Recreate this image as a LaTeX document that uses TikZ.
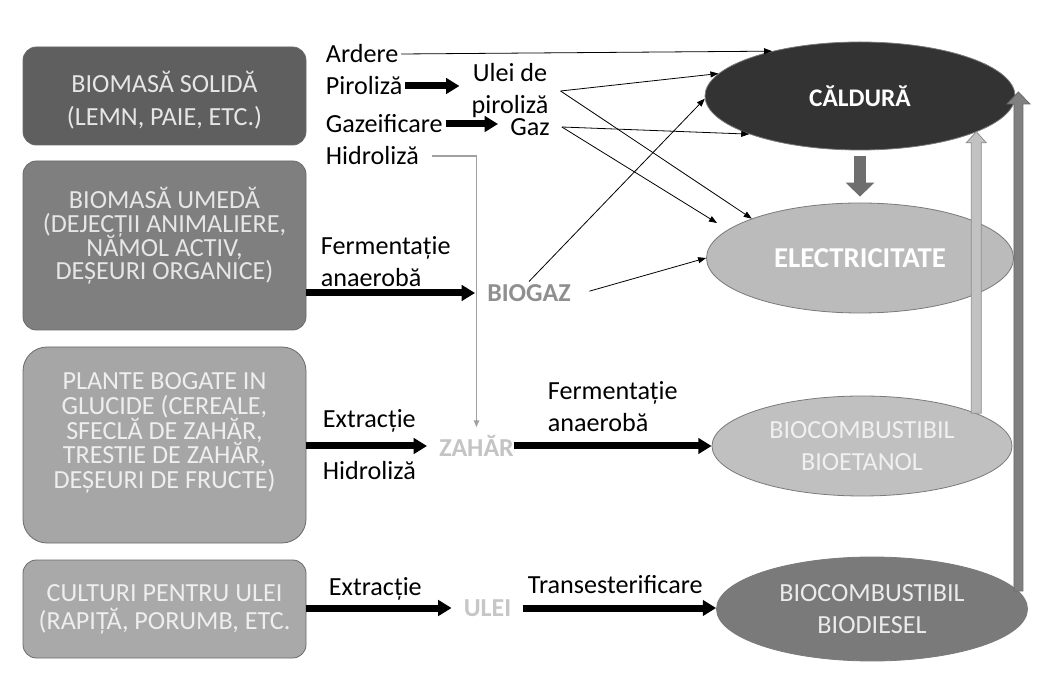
\documentclass[tikz,border=0pt]{standalone}
\usepackage{fontspec}
\setmainfont{Carlito}
\usetikzlibrary{arrows.meta,shapes.geometric,calc}

\definecolor{boxA}{HTML}{5F5F5F}
\definecolor{boxB}{HTML}{7F7F7F}
\definecolor{boxC}{HTML}{A6A6A6}
\definecolor{boxD}{HTML}{A9A9A9}
\definecolor{boxline}{HTML}{6A6A6A}
\definecolor{boxtext}{HTML}{E6E6E6}
\definecolor{boxtextlight}{HTML}{EEEEEE}
\definecolor{caldfill}{HTML}{333333}
\definecolor{elecfill}{HTML}{BBBBBB}
\definecolor{etfill}{HTML}{C0C0C0}
\definecolor{dfill}{HTML}{7A7A7A}
\definecolor{ellline}{HTML}{7A7A7A}
\definecolor{biogazc}{HTML}{8F8F8F}
\definecolor{zaharc}{HTML}{C4C4C4}
\definecolor{uleic}{HTML}{C6C6C6}
\definecolor{hydline}{HTML}{A0A0A0}
\definecolor{downc}{HTML}{6E6E6E}
\definecolor{lightup}{HTML}{C2C2C2}
\definecolor{lightupline}{HTML}{8E8E8E}
\definecolor{darkup}{HTML}{808080}
\definecolor{darkupline}{HTML}{6A6A6A}

% caption font with a fixed line pitch
\newcommand{\capfont}[1]{\fontsize{19.6}{#1}\selectfont\lineskiplimit=-30pt\relax}

\begin{document}
\begin{tikzpicture}[x=0.75pt,y=-0.75pt,
  srcbox/.style={draw=boxline, line width=0.6pt, rectangle, rounded corners=10pt,
    minimum width=212.25pt, inner sep=0pt},
  srctext/.style={text width=210pt, align=flush center, inner sep=0pt, text=boxtext},
  lbl/.style={font=\fontsize{19.6}{24}\selectfont, inner sep=2pt, text=black},
  mid/.style={font=\bfseries\fontsize{19.4}{24}\selectfont, inner xsep=9pt, inner ysep=2pt},
  target/.style={ellipse, draw=ellline, line width=0.6pt, inner sep=0pt, align=center},
  flow/.style={line width=5.25pt, -{Triangle[length=10pt,width=11.5pt]}},
  link/.style={line width=0.6pt, -{Triangle[length=6pt,width=4.5pt]}},
  greyline/.style={draw=hydline, line width=0.8pt, -{Triangle[length=5pt,width=4pt]}},
  downarrow/.style={draw=downc, line width=9pt, -{Triangle[length=10.5pt,width=21pt]}}
]
\useasboundingbox[fill=white] (0,0) rectangle (1056,680);

% biomass sources: rounded boxes and their captions
\node[srcbox, fill=boxA, minimum height=73.5pt] (solid) at (164.5,96) {};
\node[srctext, font=\capfont{25}] (solidtxt) at (164.5,100)
  {BIOMASĂ SOLIDĂ\\(LEMN, PAIE, ETC.)};
\node[srcbox, fill=boxB, minimum height=126.75pt] (umeda) at (164.5,245.5) {};
\node[srctext, font=\capfont{17.8}] (umedatxt) at (164.5,236)
  {BIOMASĂ UMEDĂ\\(DEJECȚII ANIMALIERE,\\NĂMOL ACTIV,\\DEȘEURI ORGANICE)};
\node[srcbox, fill=boxC, minimum height=147pt, rounded corners=18pt] (glucide) at (164.5,445) {};
\node[srctext, text=boxtextlight, font=\capfont{18.5}] (glucidetxt) at (164.5,433)
  {PLANTE BOGATE IN\\GLUCIDE (CEREALE,\\SFECLĂ DE ZAHĂR,\\TRESTIE DE ZAHĂR,\\DEȘEURI DE FRUCTE)};
\node[srcbox, fill=boxD, minimum height=73.5pt] (oilcrops) at (164.5,609) {};
\node[srctext, text=boxtextlight, font=\capfont{21}] (oilcropstxt) at (164.5,609)
  {CULTURI PENTRU ULEI\\(RAPIȚĂ, PORUMB, ETC.};

% energy products
\node[target, fill=caldfill, minimum width=232.5pt, minimum height=81pt, text=white,
  font=\bfseries\fontsize{19}{24}\selectfont] (cald) at (860,96) {CĂLDURĂ};
\node[target, fill=elecfill, minimum width=230.25pt, minimum height=82.5pt, text=white,
  font=\bfseries\fontsize{21.6}{26}\selectfont] (elec) at (860,258) {ELECTRICITATE};
\node[target, fill=etfill, minimum width=225pt, minimum height=75pt, text=white!94!black,
  font=\fontsize{19.6}{24}\selectfont] (bioet) at (862,446) {BIOCOMBUSTIBIL\\BIOETANOL};
\node[target, fill=dfill, minimum width=233.25pt, minimum height=78pt, text=white!92!black,
  font=\fontsize{19.6}{24}\selectfont] (bdies) at (872,609) {BIOCOMBUSTIBIL\\BIODIESEL};

% process labels and intermediates
\node[lbl, anchor=west] (ardere) at (323,54) {Ardere};
\node[lbl, anchor=west] (piroliza) at (323,86) {Piroliză};
\node[lbl, anchor=west] (gazeif) at (323,124) {Gazeificare};
\node[lbl, anchor=west] (hidro1) at (323,156) {Hidroliză};
\node[lbl, inner xsep=9pt, align=center] (uleip) at (510,91) {Ulei de\\piroliză};
\node[lbl, inner xsep=9pt, anchor=west] (gaz) at (498,127) {Gaz};
\node[lbl, anchor=west, align=left] (ferm1) at (318,262) {Fermentație\\anaerobă};
\node[mid, text=biogazc] (biogaz) at (529,293) {BIOGAZ};
\node[lbl, anchor=west] (extr1) at (320,421) {Extracție};
\node[mid, text=zaharc] (zahar) at (476.5,446) {ZAHĂR};
\node[lbl, anchor=west] (hidro2) at (320,471) {Hidroliză};
\node[lbl, anchor=west, align=left] (ferm2) at (545,407) {Fermentație\\anaerobă};
\node[lbl, anchor=west] (extr2) at (326,589) {Extracție};
\node[mid, text=uleic] (ulei) at (487.5,608) {ULEI};
\node[lbl, anchor=west] (trans) at (525,585) {Transesterificare};

% thick process arrows
\draw[flow] (piroliza.east) -- (piroliza.east -| uleip.west);
\draw[flow] (gazeif.east) -- (gazeif.east -| gaz.west);
\draw[flow] (umeda.east |- biogaz) -- (biogaz.west);
\draw[flow] (glucide.east |- zahar) -- (zahar.west);
\draw[flow, shorten <=-9pt] (zahar.east) -- (zahar.east -| bioet.west);
\draw[flow] (oilcrops.east |- ulei) -- (ulei.west);
\draw[flow] (ulei.east) -- (ulei.east -| bdies.west);

% thin conversion arrows
\draw[link] (ardere.east) -- (cald.153);
\draw[link] (uleip.east) -- (cald.171);
\draw[link] (uleip.east) -- (elec.160);
\draw[link] (gaz.east) -- (cald.199.5);
\draw[link] (gaz.east) -- ($(elec.center)+(-143,-35)$);
\draw[link] (biogaz.north) -- (cald.181);
\draw[link, shorten <=5pt] (biogaz.east) -- (elec.west);

% hydrolysis route to sugar
\draw[greyline, shorten <=8pt, shorten >=4pt] (hidro1.east) -| (zahar.north);

% heat to electricity
\draw[downarrow, shorten <=4pt, shorten >=4.5pt] (cald) -- (elec);

% bioethanol to heat
\coordinate (la0) at (bioet.16.3);
\coordinate (la1) at (la0 |- cald.-17.5);
\filldraw[fill=lightup, draw=lightupline, line width=0.6pt]
  ($(la0)+(-5,0)$) -- ($(la1)+(-5,11)$) -- ($(la1)+(-10,11)$) -- (la1)
  -- ($(la1)+(10,11)$) -- ($(la1)+(5,11)$) -- ($(la0)+(5,0)$) -- cycle;

% biodiesel to heat
\coordinate (da0) at (bdies.7.2);
\coordinate (da1) at ($(da0 |- cald.east)+(0,-4)$);
\filldraw[fill=darkup, draw=darkupline, line width=0.6pt]
  ($(da0)+(-4.5,0)$) -- ($(da1)+(-4.5,12)$) -- ($(da1)+(-11.5,12)$) -- (da1)
  -- ($(da1)+(11.5,12)$) -- ($(da1)+(4.5,12)$) -- ($(da0)+(4.5,0)$) -- cycle;
\end{tikzpicture}
\end{document}
